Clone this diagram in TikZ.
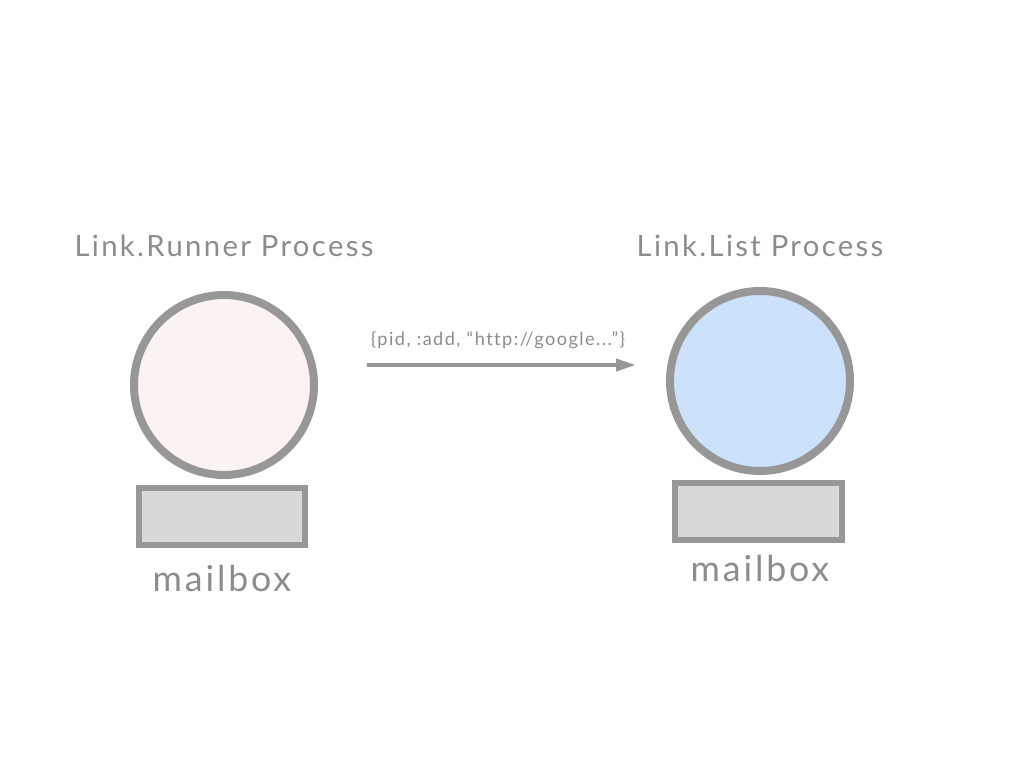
\documentclass[tikz,border=0pt]{standalone}
\usepackage{fontspec}
\setmainfont{Lato}[LetterSpace=8, Ligatures=NoCommon]
\usepackage{tikz}
\usetikzlibrary{arrows.meta}
\definecolor{stroke}{HTML}{979797}
\definecolor{label}{HTML}{8C8C8C}
\definecolor{runnerfill}{HTML}{FAF3F1}
\definecolor{listfill}{HTML}{CCE1FA}
\definecolor{boxfill}{HTML}{D8D8D8}
\tikzset{
  proc/.style={circle, draw=stroke, line width=0.24cm, minimum size=5.4cm, inner sep=0pt},
  mbox/.style={rectangle, draw=stroke, fill=boxfill, line width=0.18cm, minimum width=4.98cm, minimum height=1.71cm, inner sep=0pt},
  title/.style={text=label, font=\fontsize{25}{28}\selectfont},
  boxlab/.style={text=label, font=\fontsize{30.5}{34}\selectfont},
  msglab/.style={text=label, font=\fontsize{15.5}{18}\selectfont},
  msg/.style={draw=stroke, line width=0.12cm, -{Triangle[length=0.6cm,width=0.36cm]}}
}
\begin{document}
\begin{tikzpicture}[x=0.03cm, y=-0.03cm]
  \useasboundingbox (0,0) rectangle (1024,768);

  % sender side
  \node[title] (runnertitle) at (224,246) {Link.Runner Process};
  \node[proc, fill=runnerfill] (runner) at (224,385) {};
  \node[mbox] (runnerbox) at (222,516.5) {};
  \node[boxlab] (runnerlab) at (222,578) {mailbox};

  % receiver side
  \node[title] (listtitle) at (760,246) {Link.List Process};
  \node[proc, fill=listfill] (list) at (760,381) {};
  \node[mbox, minimum width=5.01cm] (listbox) at (758.5,511.5) {};
  \node[boxlab] (listlab) at (760,568) {mailbox};

  % message
  \coordinate (send) at (367,365);
  \coordinate (recv) at (636,365);
  \draw[msg] (send) -- (recv);
  \node[msglab] (msgtext) at (498,340) {\{pid, :add, “http://google...”\}};
\end{tikzpicture}
\end{document}
